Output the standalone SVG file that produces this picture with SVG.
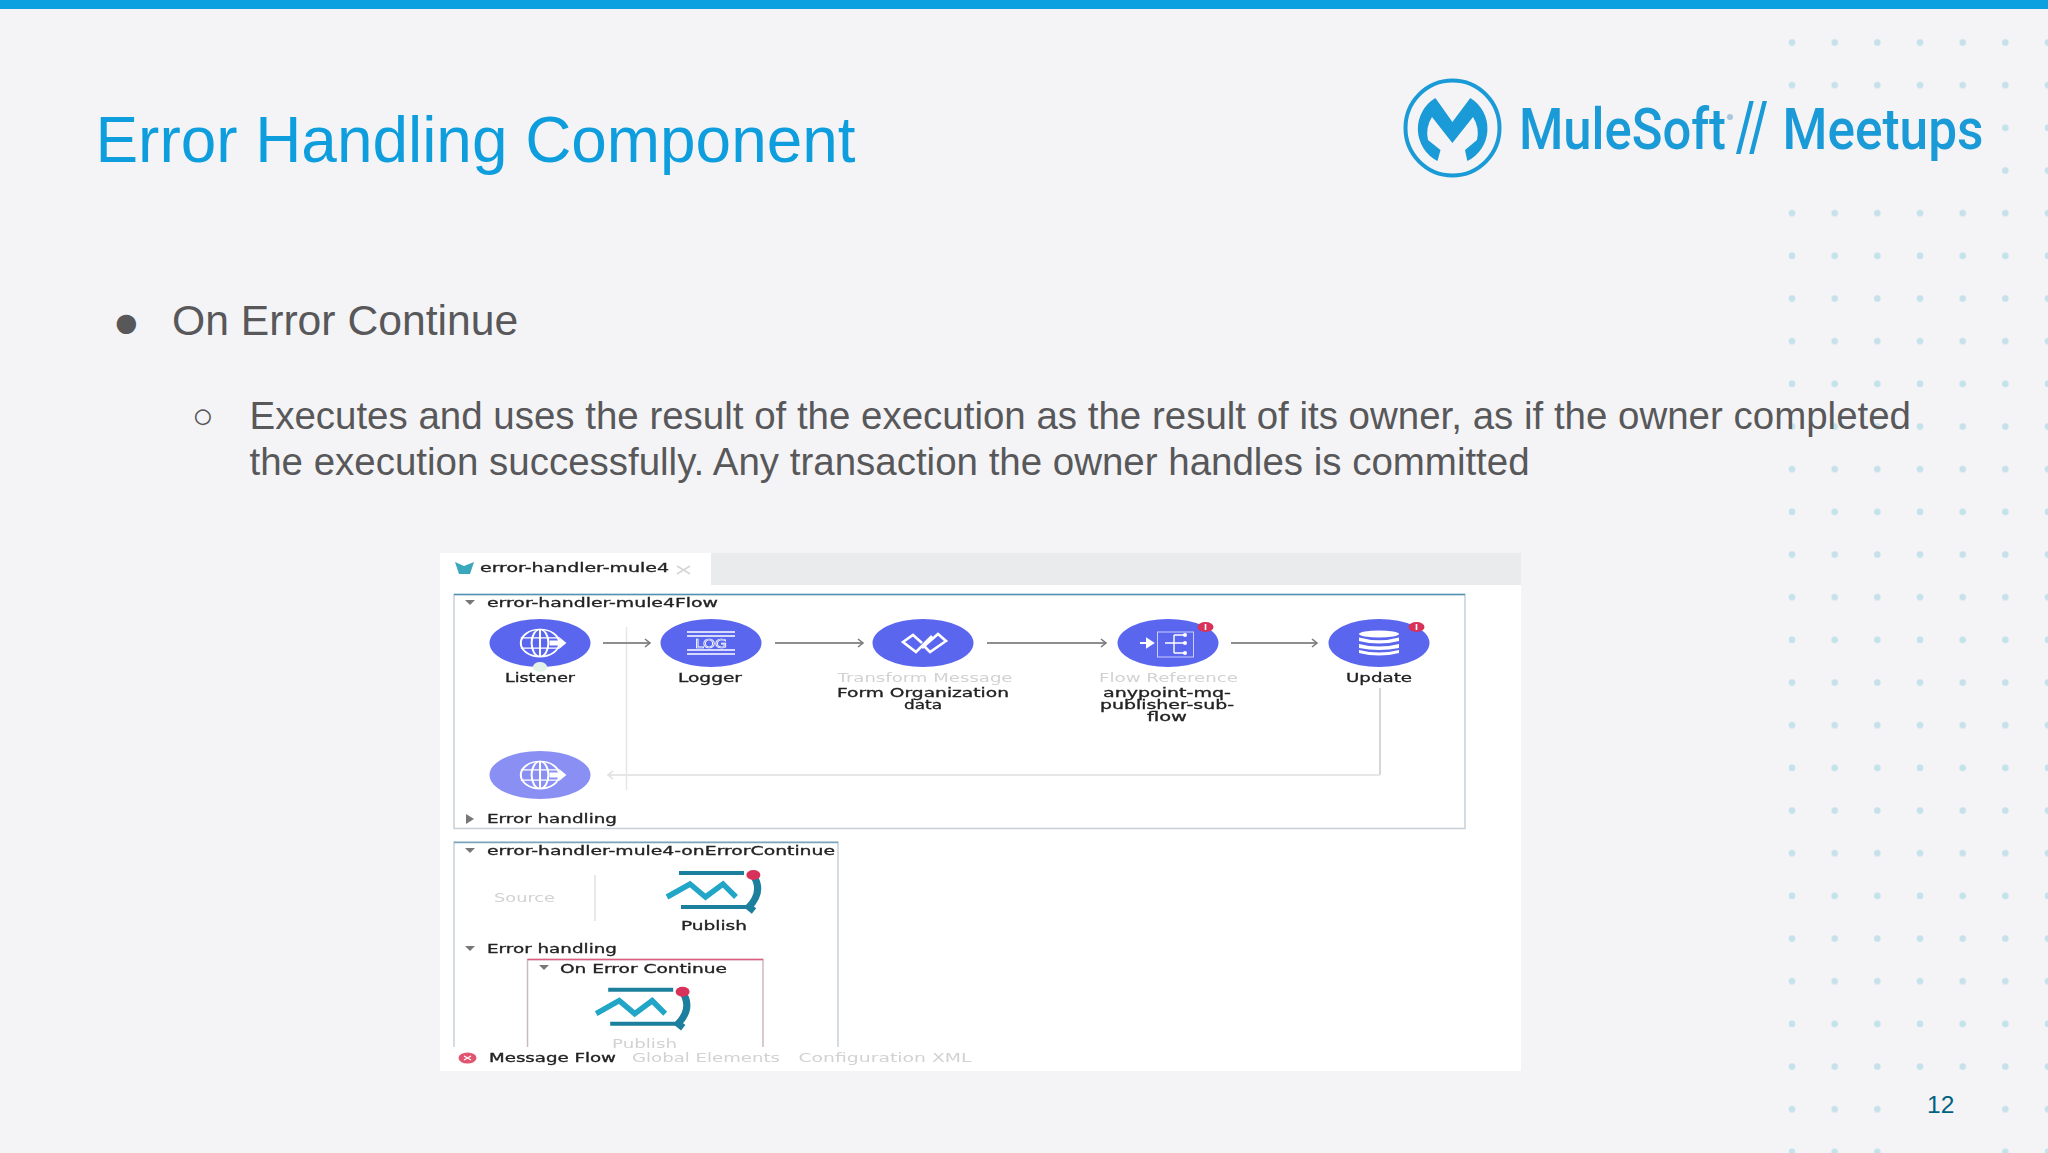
<svg xmlns="http://www.w3.org/2000/svg" xmlns:xlink="http://www.w3.org/1999/xlink" width="2048" height="1153" viewBox="0 0 2048 1153">
<style>
.t{font-family:"Liberation Sans",Arial,sans-serif}
.body{font-family:"Liberation Sans",Arial,sans-serif;fill:#58585a}
.s{font-family:"DejaVu Sans",Verdana,sans-serif;font-size:11.5px;fill:#222;stroke:#222;stroke-width:.3}
.g{font-family:"DejaVu Sans",Verdana,sans-serif;font-size:11.5px;fill:#d2d2d2}
.m{text-anchor:middle}
.logo{font-family:"Roboto","Open Sans",sans-serif;font-size:58px;font-weight:500;fill:#1a9ad6}
.blue{fill:#5a66ee}.pale{fill:#8a90f3}
.ic{fill:none;stroke:#fff;stroke-width:1.7}
.icf{fill:#fff}
.badge{fill:#d8335a}
.tri{fill:#777}
.wire{fill:none;stroke:#8e8e8e;stroke-width:2}
.wirepale{fill:none;stroke:#e6e6e6;stroke-width:2}
.mq1{fill:none;stroke:#1d7f9d;stroke-width:4}
.mq2{fill:none;stroke:#20a6c8;stroke-width:5.500}
.mq3{fill:none;stroke:#1d7f9d;stroke-width:7}
</style>
<defs>
<pattern id="dots" x="1771" y="21" width="42.67" height="42.67" patternUnits="userSpaceOnUse"><circle cx="21" cy="21.500" r="3.300" fill="#c5e2ea"/></pattern>
<marker id="ah" markerWidth="10" markerHeight="10" refX="8" refY="5" orient="auto" markerUnits="userSpaceOnUse"><path d="M3 1L8 5L3 9" fill="none" stroke="#7b7b7b" stroke-width="1.6"/></marker>
<marker id="ahp" markerWidth="10" markerHeight="10" refX="8" refY="5" orient="auto" markerUnits="userSpaceOnUse"><path d="M3 1L8 5L3 9" fill="none" stroke="#dedede" stroke-width="1.6"/></marker>
<filter id="soft" x="-2%" y="-2%" width="104%" height="104%"><feGaussianBlur stdDeviation="0.55"/></filter>
<g id="globe"><circle cx="0" cy="0" r="16" class="ic"/><ellipse cx="0" cy="0" rx="7" ry="16" class="ic"/><path d="M-16 -6H16M-16 6H16M0 -16V16" class="ic"/><path d="M8 -3h8v-4l6 7l-6 7v-4h-8z" class="icf"/></g>
<g id="mq"><path d="M-35 -18H30" class="mq1"/><path d="M-47 6L-24 -7L-8.500 6L9 -7L22 6" class="mq2"/><path d="M-33 16H34" class="mq1"/><path d="M39 -16Q50 0 35 16L40 20" class="mq3"/><ellipse cx="39.400" cy="-16" rx="7" ry="5" class="badge"/></g>
</defs>
<rect id="bg" width="2048" height="1153" fill="#f4f4f6"/>
<rect id="topbar" width="2048" height="9" fill="#0ca0e0"/>
<rect id="dotgrid" x="1771" y="21" width="277" height="1132" fill="url(#dots)"/>
<rect x="1400" y="100" width="590" height="85" fill="#f4f4f6"/>
<rect x="1900" y="1090" width="85" height="63" fill="#f4f4f6"/>
<g id="logo">
<ellipse cx="1452.500" cy="128" rx="47" ry="47.500" fill="none" stroke="#1a9ad6" stroke-width="4"/>
<path d="M1435.400 98L1452.400 122L1470.300 98A36 36 0 0 1 1467.300 161L1465 150L1477 140A30 30 0 0 0 1473 117L1452.400 143L1432 117A30 30 0 0 0 1428 140L1440.500 150L1437.500 161A36 36 0 0 1 1435.400 98Z" fill="#1a9ad6"/>
<text class="logo" x="1519" y="149" textLength="207" lengthAdjust="spacingAndGlyphs">MuleSoft</text>
<circle cx="1730" cy="117" r="3" fill="#a9c6dd"/>
<text class="logo" transform="translate(1736 150) scale(1 1.42)" style="font-size:48px">//</text>
<text class="logo" x="1782.500" y="149" textLength="201" lengthAdjust="spacingAndGlyphs">Meetups</text>
</g>
<text id="title" class="t" x="95.500" y="162" font-size="63.900" fill="#0f9edd">Error Handling Component</text>
<g id="bullets">
<text class="body" x="112.700" y="337" font-size="45">●</text>
<text class="body" x="172" y="335" font-size="42.670">On Error Continue</text>
<text class="body" x="192" y="428" font-size="36">○</text>
<text class="body" x="249.500" y="429" font-size="38.470">Executes and uses the result of the execution as the result of its owner, as if the owner completed</text>
<text class="body" x="249.500" y="475" font-size="38.470">the execution successfully. Any transaction the owner handles is committed</text>
</g>
<text id="page" class="t" x="1940.700" y="1113" font-size="24.500" fill="#00627f" text-anchor="middle">12</text>
<g id="screenshot" filter="url(#soft)">
<rect x="440" y="553" width="1081" height="518" fill="#fff"/>
<rect x="711" y="553" width="810" height="32" fill="#e9ebec"/>
<g id="tab"><path d="M455 562L464 566L474 562L470 574H459Z" fill="#3aa7bd"/><text class="s" x="480" y="572" textLength="189" lengthAdjust="spacingAndGlyphs">error-handler-mule4</text><path d="M677 566L690 574M690 566L677 574" stroke="#d5d5d5" stroke-width="1.500"/></g>
<g id="flow-main"><rect x="454" y="594.500" width="1011" height="234" fill="none" stroke="#c6cfd8" stroke-width="1.500"/><path d="M454 594.500H1465" stroke="#4f95b3" stroke-width="1.500"/><path d="M465 600h10l-5 5z" class="tri"/><text class="s" x="487" y="607" textLength="231" lengthAdjust="spacingAndGlyphs">error-handler-mule4Flow</text><path d="M466 814l0 10l8 -5z" class="tri"/><text class="s" x="487" y="823" textLength="130" lengthAdjust="spacingAndGlyphs">Error handling</text></g>
<g id="connectors">
<path d="M626.500 627V790" stroke="#e6e6e6" stroke-width="1.500"/>
<path class="wire" d="M603 643H650" marker-end="url(#ah)"/>
<path class="wire" d="M775 643H863" marker-end="url(#ah)"/>
<path class="wire" d="M987 643H1106" marker-end="url(#ah)"/>
<path class="wire" d="M1231 643H1317" marker-end="url(#ah)"/>
<path d="M1380 688V775" fill="none" stroke="#c8c8c8" stroke-width="1.500"/>
<path class="wirepale" d="M1380 775H608" marker-end="url(#ahp)"/>
</g>
<g id="listener"><ellipse class="blue" cx="540" cy="643" rx="50.500" ry="24"/><use xlink:href="#globe" transform="translate(540 643) scale(1.2 .85)"/><ellipse cx="540" cy="667" rx="7" ry="5" fill="#e4f3e8"/><text class="s m" x="540" y="682" textLength="70" lengthAdjust="spacingAndGlyphs">Listener</text></g>
<g id="logger"><ellipse class="blue" cx="711" cy="643" rx="50.500" ry="24"/><path d="M687 632H735M687 636H735M687 650H735M687 654H735" class="ic"/><text x="711" y="648" font-family="DejaVu Sans" font-size="12" fill="none" stroke="#fff" stroke-width=".7" text-anchor="middle" textLength="32" lengthAdjust="spacingAndGlyphs">LOG</text><text class="s m" x="710" y="682" textLength="64" lengthAdjust="spacingAndGlyphs">Logger</text></g>
<g id="transform"><ellipse class="blue" cx="923" cy="643" rx="50.500" ry="24"/><path d="M922 643L913 635L903 642L916 652L932 636M922 648L938 634L946 641L930 652L923 645" fill="none" stroke="#fff" stroke-width="2.600"/><text class="g m" x="925" y="682" textLength="175" lengthAdjust="spacingAndGlyphs">Transform Message</text><text class="s m" x="923" y="697" textLength="172" lengthAdjust="spacingAndGlyphs">Form Organization</text><text class="s m" x="923" y="709" textLength="38" lengthAdjust="spacingAndGlyphs">data</text></g>
<g id="flowref"><ellipse class="blue" cx="1168" cy="643" rx="50.500" ry="24"/><path d="M1140 643H1151M1147 639L1153 643L1147 647Z" stroke="#fff" stroke-width="2" fill="#fff"/><rect x="1157.500" y="632" width="36" height="25" fill="none" stroke="#c9cdfb" stroke-width="1"/><path d="M1165 643H1184M1174 635V653M1174 635H1186M1174 653H1186" fill="none" stroke="#fff" stroke-width="1.400"/><circle cx="1185" cy="635" r="2" class="icf"/><circle cx="1185" cy="643" r="2" class="icf"/><circle cx="1185" cy="653" r="2" class="icf"/><ellipse class="badge" cx="1205.500" cy="627" rx="8" ry="5"/><rect x="1204.700" y="624" width="1.600" height="6" fill="#fff"/><text class="g m" x="1168.500" y="682" textLength="139" lengthAdjust="spacingAndGlyphs">Flow Reference</text><text class="s m" x="1167" y="697" textLength="128" lengthAdjust="spacingAndGlyphs">anypoint-mq-</text><text class="s m" x="1167" y="709" textLength="134" lengthAdjust="spacingAndGlyphs">publisher-sub-</text><text class="s m" x="1167" y="721" textLength="40" lengthAdjust="spacingAndGlyphs">flow</text></g>
<g id="update"><ellipse class="blue" cx="1379" cy="643" rx="50.500" ry="24"/><ellipse cx="1379" cy="634" rx="20" ry="3.500" class="icf"/><path d="M1359 637.500Q1379 643 1399 637.500V641Q1379 646 1359 641ZM1359 644Q1379 649 1399 644V648Q1379 652 1359 648ZM1359 650Q1379 655 1399 650V653Q1379 658 1359 653Z" class="icf"/><ellipse class="badge" cx="1416.500" cy="627" rx="8" ry="5"/><rect x="1415.700" y="624" width="1.600" height="6" fill="#fff"/><text class="s m" x="1379" y="682" textLength="66" lengthAdjust="spacingAndGlyphs">Update</text></g>
<g id="response"><ellipse class="pale" cx="540" cy="775" rx="50.500" ry="24"/><use xlink:href="#globe" transform="translate(540 775) scale(1.2 .85)"/></g>
<g id="flow-error"><path d="M454 1047V842H838V1047" fill="none" stroke="#c6cfd8" stroke-width="1.500"/><path d="M454 842.500H838" stroke="#7aa6bd" stroke-width="1.500"/><path d="M465 848h10l-5 5z" class="tri"/><text class="s" x="487" y="855" textLength="348" lengthAdjust="spacingAndGlyphs">error-handler-mule4-onErrorContinue</text><text class="g" x="494" y="902" textLength="61" lengthAdjust="spacingAndGlyphs">Source</text><path d="M595 875V921" stroke="#e0e0e0" stroke-width="1.500"/></g>
<g id="publish-1"><use xlink:href="#mq" transform="translate(714 891)"/><text class="s m" x="714" y="930" textLength="66" lengthAdjust="spacingAndGlyphs">Publish</text></g>
<g id="handling"><path d="M465 946h10l-5 5z" class="tri"/><text class="s" x="487" y="953" textLength="130" lengthAdjust="spacingAndGlyphs">Error handling</text></g>
<g id="on-error"><path d="M527.500 1047V959.500H763V1047" fill="none" stroke="#cdb9c4" stroke-width="1.500"/><path d="M527.500 959.500H763" stroke="#dc5f7f" stroke-width="1.500"/><path d="M539 965h10l-5 5z" class="tri"/><text class="s" x="560" y="973" textLength="167" lengthAdjust="spacingAndGlyphs">On Error Continue</text></g>
<g id="publish-2"><use xlink:href="#mq" transform="translate(643.200 1007.700)"/><text class="g m" x="644.500" y="1048" textLength="65" lengthAdjust="spacingAndGlyphs">Publish</text></g>
<rect x="441" y="1049" width="800" height="22" fill="#fff"/>
<g id="tabs-bottom"><ellipse cx="467.500" cy="1058" rx="9" ry="5.500" fill="#e0576f"/><path d="M464 1056l7 4M471 1056l-7 4" stroke="#fff" stroke-width="1.200"/><text class="s" x="489" y="1062" textLength="127" lengthAdjust="spacingAndGlyphs">Message Flow</text><text class="g" x="632" y="1062" textLength="148" lengthAdjust="spacingAndGlyphs">Global Elements</text><text class="g" x="798.500" y="1062" textLength="173" lengthAdjust="spacingAndGlyphs">Configuration XML</text></g>
</g>
</svg>
